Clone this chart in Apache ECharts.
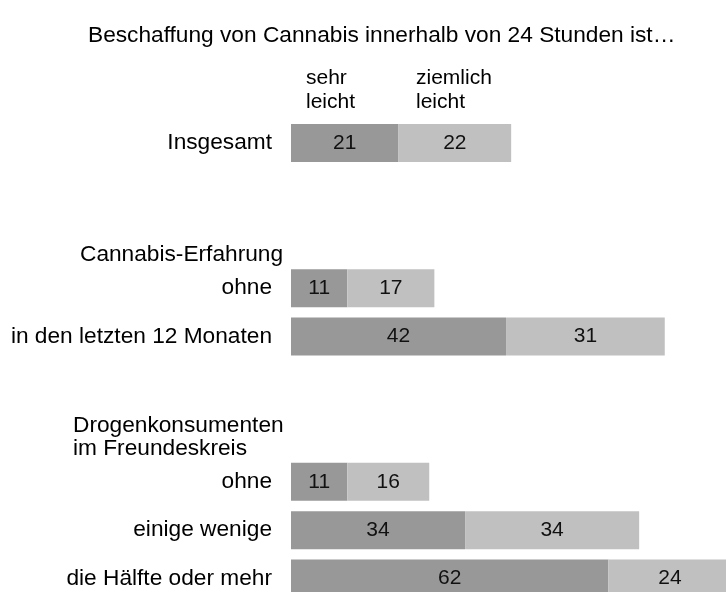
<!DOCTYPE html>
<html>
<head>
<meta charset="utf-8">
<script src="https://cdn.jsdelivr.net/npm/echarts@6/dist/echarts.min.js"></script>
<style>
  html, body { margin: 0; padding: 0; background: #fff; }
  #main { width: 726px; height: 592px; }
</style>
</head>
<body>
<div id="main"></div>
<script>
// Zeilen (leere Strings = Abstandszeilen / Gruppenüberschriften)
var categories = ['Insgesamt', '', '', 'ohne', 'in den letzten 12 Monaten', '', '', 'ohne', 'einige wenige', 'die Hälfte oder mehr'];
var sehrLeicht = [21, null, null, 11, 42, null, null, 11, 34, 62];
var ziemlichLeicht = [22, null, null, 17, 31, null, null, 16, 34, 24];
var groupHeaders = ['Cannabis-Erfahrung', 'Drogenkonsumenten\nim Freundeskreis'];
var columnHeaders = ['sehr\nleicht', 'ziemlich\nleicht'];
var titleText = 'Beschaffung von Cannabis innerhalb von 24 Stunden ist…';

var myChart = echarts.init(document.getElementById('main'));

var font = '"Liberation Sans", Arial, sans-serif';

var barLabel = {
    show: true,
    position: 'inside',
    color: '#111',
    fontFamily: font,
    fontSize: 21
};

var option = {
    animation: false,
    backgroundColor: '#fff',
    title: {
        text: titleText,
        left: 88,
        top: 24,
        padding: 0,
        textStyle: { fontFamily: font, fontSize: 22.7, fontWeight: 'normal', color: '#000' }
    },
    grid: {
        left: 291, top: 118.8, width: 512, height: 484,
        containLabel: false,
        outerBoundsMode: 'none'
    },
    xAxis: {
        type: 'value',
        min: 0,
        max: 100,
        show: false
    },
    yAxis: {
        type: 'category',
        inverse: true,
        data: categories,
        axisLine: { show: false },
        axisTick: { show: false },
        splitLine: { show: false },
        axisLabel: {
            margin: 19,
            color: '#000',
            fontFamily: font,
            fontSize: 22.7
        }
    },
    series: [
        {
            name: 'sehr leicht',
            type: 'bar',
            stack: 'a',
            barWidth: 38,
            itemStyle: { color: '#989898' },
            label: barLabel,
            data: sehrLeicht
        },
        {
            name: 'ziemlich leicht',
            type: 'bar',
            stack: 'a',
            barWidth: 38,
            itemStyle: { color: '#c0c0c0' },
            label: barLabel,
            data: ziemlichLeicht
        }
    ],
    graphic: [
        {
            type: 'text', left: 306, top: 66,
            style: { text: columnHeaders[0], fontFamily: font, fontSize: 21, lineHeight: 24, fill: '#000' }
        },
        {
            type: 'text', left: 416, top: 66,
            style: { text: columnHeaders[1], fontFamily: font, fontSize: 21, lineHeight: 24, fill: '#000' }
        },
        {
            type: 'text', left: 80, top: 243,
            style: { text: groupHeaders[0], fontFamily: font, fontSize: 22.7, lineHeight: 24, fill: '#000' }
        },
        {
            type: 'text', left: 73, top: 414,
            style: { text: groupHeaders[1], fontFamily: font, fontSize: 22.7, lineHeight: 23, fill: '#000' }
        }
    ]
};

myChart.setOption(option);
</script>
</body>
</html>
